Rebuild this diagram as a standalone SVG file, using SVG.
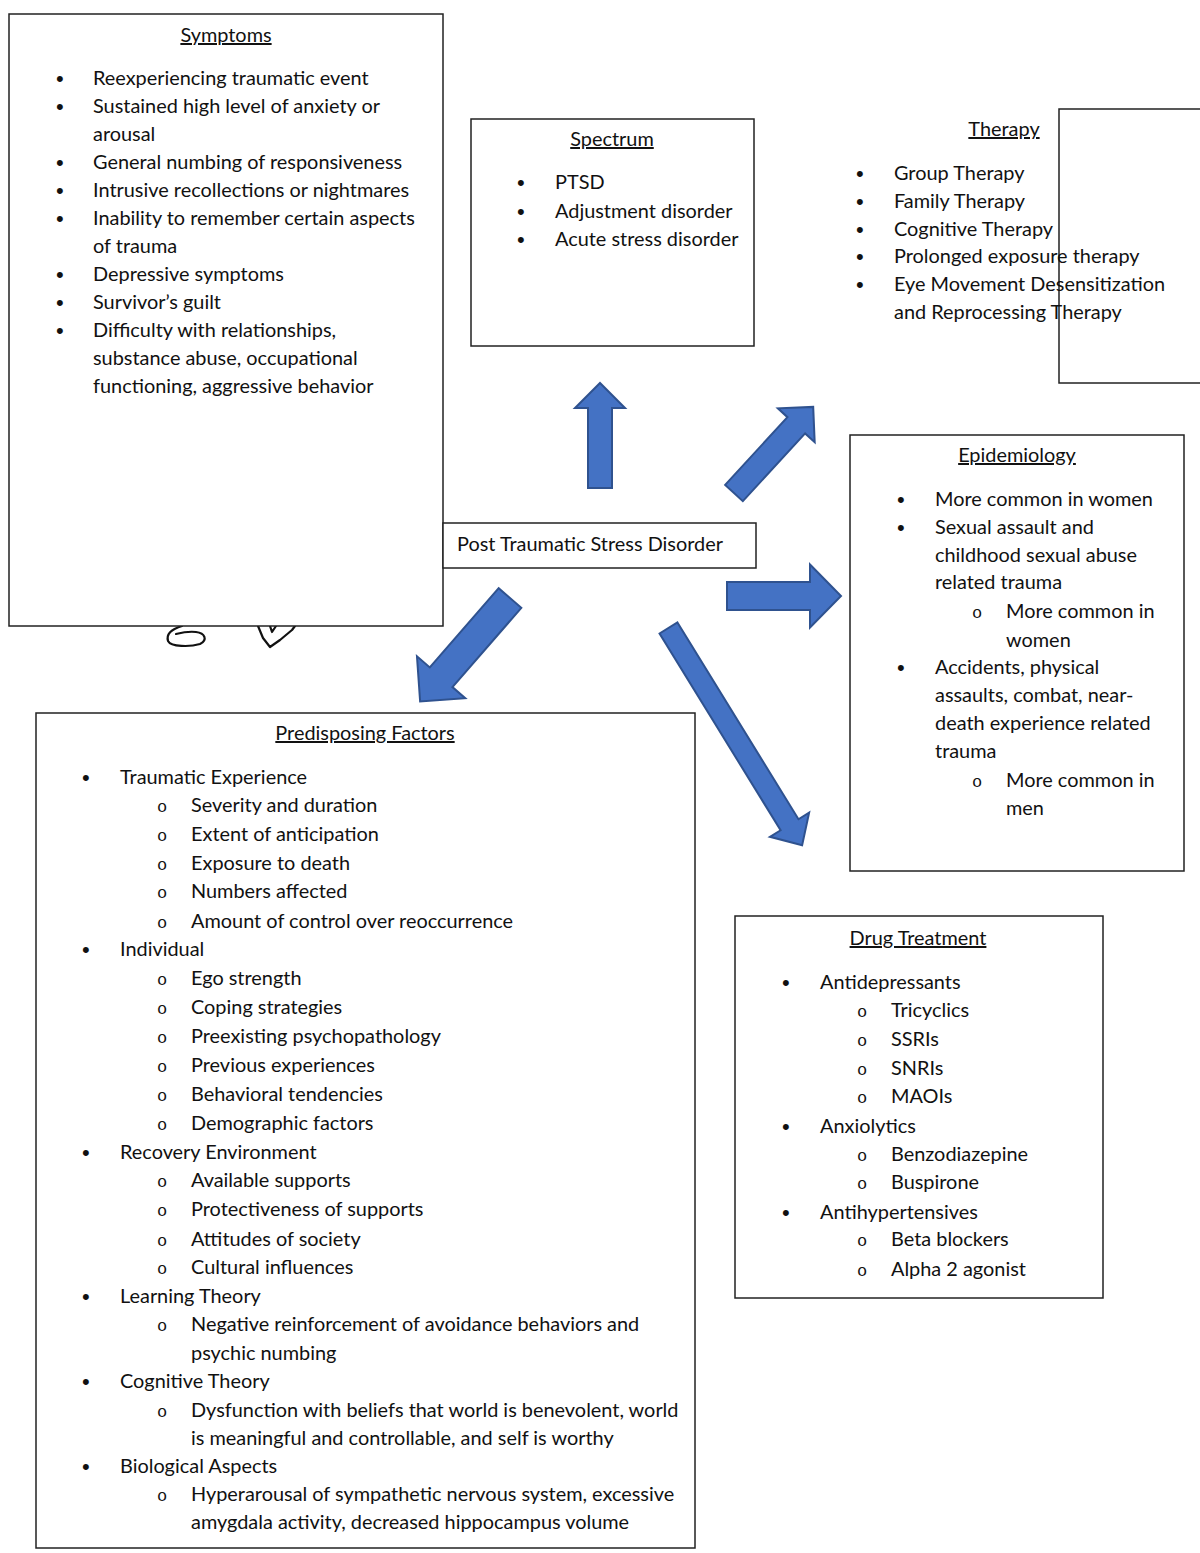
<svg xmlns="http://www.w3.org/2000/svg" width="1200" height="1553" viewBox="0 0 1200 1553">
<style>
.box{fill:#fff;stroke:#222;stroke-width:1.5}
text{font-family:Lato,"Liberation Sans",sans-serif;font-size:19.9px;fill:#111}
.t{text-anchor:middle;text-decoration:underline}
.b{font-family:"Liberation Sans",sans-serif;font-size:22px}
.o{font-family:"Liberation Mono",monospace;font-size:17px}
.arr{fill:#4472C4;stroke:#2F528F;stroke-width:2;stroke-linejoin:miter}
.doodle{fill:none;stroke:#111;stroke-width:2.2;stroke-linecap:round;stroke-linejoin:round}
</style>
<rect width="1200" height="1553" fill="#fff"/>

<g id="doodles">
<path class="doodle" d="M182,626 C172,629 166,634 168,641 C171,647 190,647 200,644 C208,640 205,633 196,632 C188,631 180,633 176,634"/>
<path class="doodle" d="M258,626 L263,638 L270,647 L280,640 L292,630 L295,626 M270,626 L272,632 L276,626"/>
</g>

<g id="symptoms">
<rect class="box" x="9" y="14" width="434" height="612"/>
<text class="t" x="226" y="42">Symptoms</text>
<text class="b" x="56" y="86">•</text><text x="93" y="85">Reexperiencing traumatic event</text>
<text class="b" x="56" y="114">•</text><text x="93" y="113">Sustained high level of anxiety or</text>
<text x="93" y="141">arousal</text>
<text class="b" x="56" y="170">•</text><text x="93" y="169">General numbing of responsiveness</text>
<text class="b" x="56" y="198">•</text><text x="93" y="197">Intrusive recollections or nightmares</text>
<text class="b" x="56" y="226">•</text><text x="93" y="225">Inability to remember certain aspects</text>
<text x="93" y="253">of trauma</text>
<text class="b" x="56" y="282">•</text><text x="93" y="281">Depressive symptoms</text>
<text class="b" x="56" y="310">•</text><text x="93" y="309">Survivor’s guilt</text>
<text class="b" x="56" y="338">•</text><text x="93" y="337">Difficulty with relationships,</text>
<text x="93" y="365">substance abuse, occupational</text>
<text x="93" y="393">functioning, aggressive behavior</text>
</g>

<g id="spectrum">
<rect class="box" x="471" y="119" width="283" height="227"/>
<text class="t" x="612" y="146">Spectrum</text>
<text class="b" x="517" y="190">•</text><text x="555" y="189">PTSD</text>
<text class="b" x="517" y="219">•</text><text x="555" y="218">Adjustment disorder</text>
<text class="b" x="517" y="247">•</text><text x="555" y="246">Acute stress disorder</text>
</g>

<g id="therapy">
<rect class="box" x="1059" y="109" width="150" height="274"/>
<text class="t" x="1004" y="136">Therapy</text>
<text class="b" x="856" y="181">•</text><text x="894" y="180">Group Therapy</text>
<text class="b" x="856" y="209">•</text><text x="894" y="208">Family Therapy</text>
<text class="b" x="856" y="237">•</text><text x="894" y="236">Cognitive Therapy</text>
<text class="b" x="856" y="264">•</text><text x="894" y="263">Prolonged exposure therapy</text>
<text class="b" x="856" y="292">•</text><text x="894" y="291">Eye Movement Desensitization</text>
<text x="894" y="319">and Reprocessing Therapy</text>
</g>

<g id="epidemiology">
<rect class="box" x="850" y="435" width="334" height="436"/>
<text class="t" x="1017" y="462">Epidemiology</text>
<text class="b" x="897" y="507">•</text><text x="935" y="506">More common in women</text>
<text class="b" x="897" y="535">•</text><text x="935" y="534">Sexual assault and</text>
<text x="935" y="562">childhood sexual abuse</text>
<text x="935" y="589">related trauma</text>
<text class="o" x="972" y="618">o</text><text x="1006" y="618">More common in</text>
<text x="1006" y="647">women</text>
<text class="b" x="897" y="675">•</text><text x="935" y="674">Accidents, physical</text>
<text x="935" y="702">assaults, combat, near-</text>
<text x="935" y="730">death experience related</text>
<text x="935" y="758">trauma</text>
<text class="o" x="972" y="787">o</text><text x="1006" y="787">More common in</text>
<text x="1006" y="815">men</text>
</g>

<g id="ptsd">
<rect class="box" x="443" y="523" width="313" height="45"/>
<text x="457" y="551">Post Traumatic Stress Disorder</text>
</g>

<g id="predisposing">
<rect class="box" x="36" y="713" width="659" height="835"/>
<text class="t" x="365" y="740">Predisposing Factors</text>
<text class="b" x="82" y="785">•</text><text x="120" y="784">Traumatic Experience</text>
<text class="o" x="157" y="812">o</text><text x="191" y="812">Severity and duration</text>
<text class="o" x="157" y="841">o</text><text x="191" y="841">Extent of anticipation</text>
<text class="o" x="157" y="870">o</text><text x="191" y="870">Exposure to death</text>
<text class="o" x="157" y="898">o</text><text x="191" y="898">Numbers affected</text>
<text class="o" x="157" y="928">o</text><text x="191" y="928">Amount of control over reoccurrence</text>
<text class="b" x="82" y="957">•</text><text x="120" y="956">Individual</text>
<text class="o" x="157" y="985">o</text><text x="191" y="985">Ego strength</text>
<text class="o" x="157" y="1014">o</text><text x="191" y="1014">Coping strategies</text>
<text class="o" x="157" y="1043">o</text><text x="191" y="1043">Preexisting psychopathology</text>
<text class="o" x="157" y="1072">o</text><text x="191" y="1072">Previous experiences</text>
<text class="o" x="157" y="1101">o</text><text x="191" y="1101">Behavioral tendencies</text>
<text class="o" x="157" y="1130">o</text><text x="191" y="1130">Demographic factors</text>
<text class="b" x="82" y="1160">•</text><text x="120" y="1159">Recovery Environment</text>
<text class="o" x="157" y="1187">o</text><text x="191" y="1187">Available supports</text>
<text class="o" x="157" y="1216">o</text><text x="191" y="1216">Protectiveness of supports</text>
<text class="o" x="157" y="1246">o</text><text x="191" y="1246">Attitudes of society</text>
<text class="o" x="157" y="1274">o</text><text x="191" y="1274">Cultural influences</text>
<text class="b" x="82" y="1304">•</text><text x="120" y="1303">Learning Theory</text>
<text class="o" x="157" y="1331">o</text><text x="191" y="1331">Negative reinforcement of avoidance behaviors and</text>
<text x="191" y="1360">psychic numbing</text>
<text class="b" x="82" y="1389">•</text><text x="120" y="1388">Cognitive Theory</text>
<text class="o" x="157" y="1417">o</text><text x="191" y="1417">Dysfunction with beliefs that world is benevolent, world</text>
<text x="191" y="1445">is meaningful and controllable, and self is worthy</text>
<text class="b" x="82" y="1474">•</text><text x="120" y="1473">Biological Aspects</text>
<text class="o" x="157" y="1501">o</text><text x="191" y="1501">Hyperarousal of sympathetic nervous system, excessive</text>
<text x="191" y="1529">amygdala activity, decreased hippocampus volume</text>
</g>

<g id="drug-treatment">
<rect class="box" x="735" y="916" width="368" height="382"/>
<text class="t" x="918" y="945">Drug Treatment</text>
<text class="b" x="782" y="990">•</text><text x="820" y="989">Antidepressants</text>
<text class="o" x="857" y="1017">o</text><text x="891" y="1017">Tricyclics</text>
<text class="o" x="857" y="1046">o</text><text x="891" y="1046">SSRIs</text>
<text class="o" x="857" y="1075">o</text><text x="891" y="1075">SNRIs</text>
<text class="o" x="857" y="1103">o</text><text x="891" y="1103">MAOIs</text>
<text class="b" x="782" y="1134">•</text><text x="820" y="1133">Anxiolytics</text>
<text class="o" x="857" y="1161">o</text><text x="891" y="1161">Benzodiazepine</text>
<text class="o" x="857" y="1189">o</text><text x="891" y="1189">Buspirone</text>
<text class="b" x="782" y="1220">•</text><text x="820" y="1219">Antihypertensives</text>
<text class="o" x="857" y="1246">o</text><text x="891" y="1246">Beta blockers</text>
<text class="o" x="857" y="1276">o</text><text x="891" y="1276">Alpha 2 agonist</text>
</g>

<g id="connectors">
<path class="arr" transform="translate(600,488) rotate(-90)" d="M0,-12 L80,-12 L80,-25 L105,0 L80,25 L80,12 L0,12 Z"/>
<path class="arr" transform="translate(734,493) rotate(-47.4)" d="M0,-12 L92,-12 L92,-25 L117,0 L92,25 L92,12 L0,12 Z"/>
<path class="arr" transform="translate(727,596)" d="M0,-14 L83,-14 L83,-31.5 L114,0 L83,31.5 L83,14 L0,14 Z"/>
<path class="arr" transform="translate(510,598) rotate(131)" d="M0,-15 L105,-15 L105,-32 L137,0 L105,32 L105,15 L0,15 Z"/>
<path class="arr" transform="translate(668.5,628) rotate(58.4)" d="M0,-10.5 L231,-10.5 L231,-23 L255,0 L231,23 L231,10.5 L0,10.5 Z"/>
</g>
</svg>
